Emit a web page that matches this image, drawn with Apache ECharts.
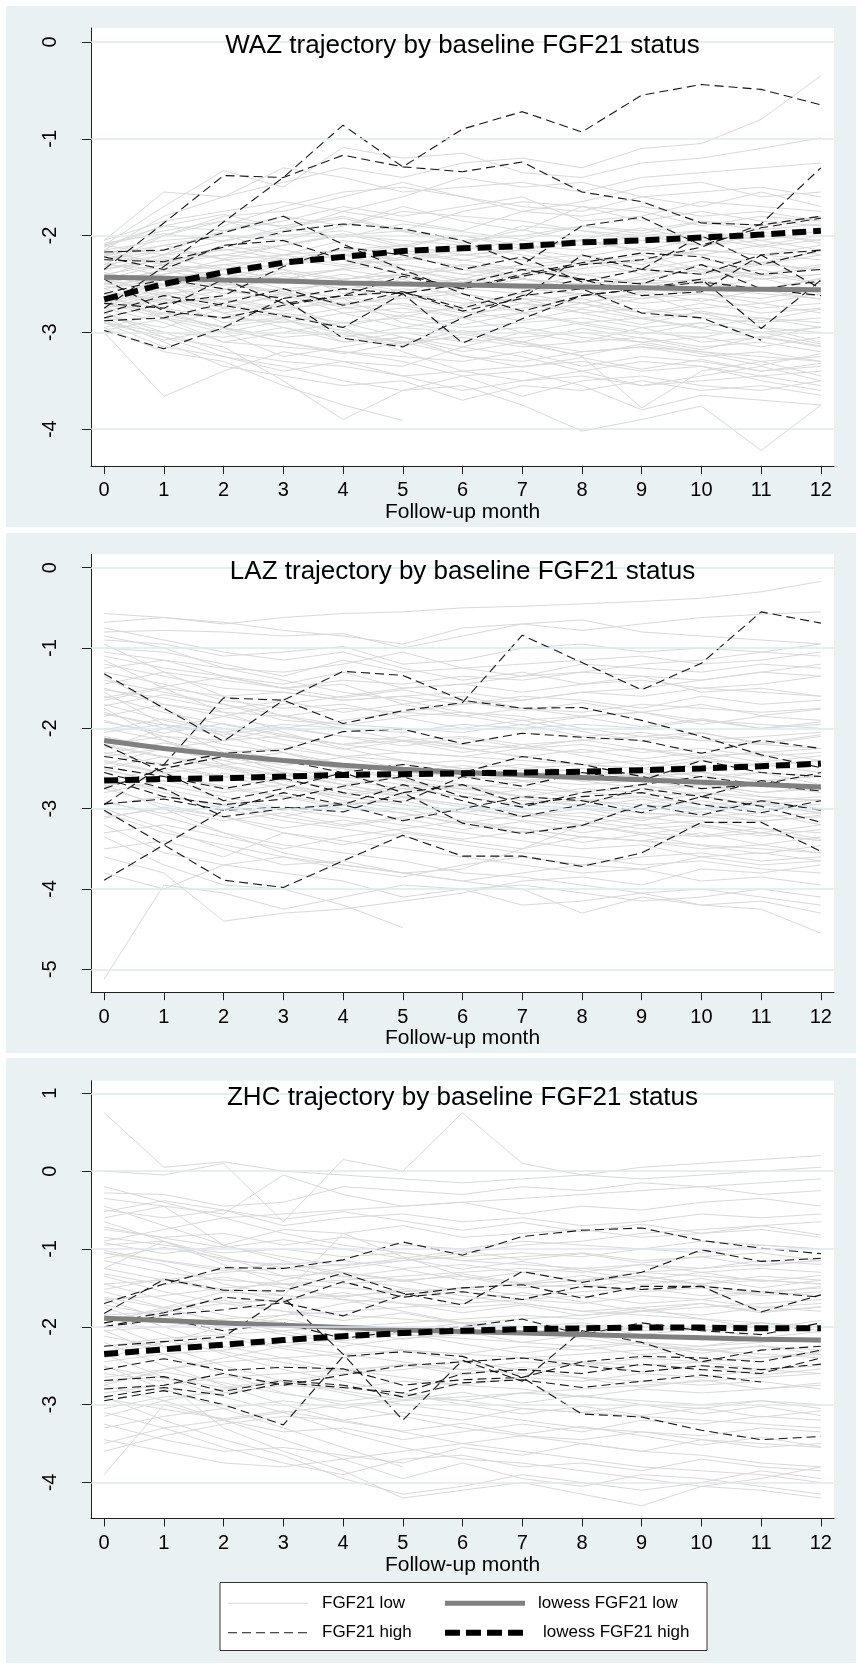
<!DOCTYPE html>
<html>
<head>
<meta charset="utf-8">
<script src="https://cdn.jsdelivr.net/npm/echarts@6/dist/echarts.min.js"></script>
<style>
html, body { margin: 0; padding: 0; background: #ffffff; }
#chart { width: 860px; height: 1669px; }
</style>
</head>
<body>
<div id="chart"></div>
<script>
// Follow-up months on the x axis
const months = [0, 1, 2, 3, 4, 5, 6, 7, 8, 9, 10, 11, 12];

// Tick labels of each panel's y axis
const wazTicks = [0, -1, -2, -3, -4];
const lazTicks = [0, -1, -2, -3, -4, -5];
const zhcTicks = [1, 0, -1, -2, -3, -4];

// ---------- WAZ ----------
const wazLow = [
  [-2.05,-1.55,-1.60,-1.45,-1.30,-1.40,-1.25,-1.20,-1.30,-1.10,-1.05,-0.80,-0.35],
  [-2.10,-1.70,-1.33,-1.50,-1.09,-1.20,-1.15,-1.35,-1.40,-1.25,-1.20,-1.10,-0.99],
  [-2.15,-1.80,-1.60,-1.30,-1.40,-1.55,-1.50,-1.45,-1.55,-1.40,-1.35,-1.30,-1.25],
  [-2.20,-2.00,-1.80,-1.75,-1.60,-1.45,-1.60,-1.70,-1.75,-1.60,-1.55,-1.50,-1.60],
  [-2.10,-1.90,-1.95,-1.85,-1.70,-1.80,-1.70,-1.60,-1.85,-1.80,-1.65,-1.70,-1.75],
  [-2.25,-2.10,-2.00,-2.05,-1.90,-1.70,-1.85,-1.95,-1.70,-1.75,-1.90,-1.80,-1.85],
  [-2.30,-2.20,-2.15,-2.10,-2.00,-2.05,-2.10,-1.90,-1.95,-2.00,-1.95,-2.05,-1.95],
  [-2.35,-2.25,-2.20,-2.25,-2.15,-2.10,-2.00,-2.10,-2.15,-2.05,-2.10,-2.00,-2.05],
  [-2.40,-2.30,-2.35,-2.20,-2.30,-2.25,-2.20,-2.25,-2.20,-2.30,-2.15,-2.20,-2.25],
  [-2.45,-2.40,-2.30,-2.40,-2.35,-2.45,-2.30,-2.35,-2.40,-2.35,-2.40,-2.30,-2.35],
  [-2.50,-2.55,-2.45,-2.50,-2.40,-2.50,-2.55,-2.45,-2.50,-2.45,-2.50,-2.55,-2.45],
  [-2.55,-2.45,-2.60,-2.55,-2.65,-2.55,-2.60,-2.70,-2.60,-2.65,-2.55,-2.60,-2.65],
  [-2.60,-2.70,-2.65,-2.75,-2.70,-2.80,-2.75,-2.65,-2.70,-2.80,-2.75,-2.70,-2.80],
  [-2.65,-2.75,-2.85,-2.80,-2.90,-2.85,-2.95,-2.90,-2.85,-2.95,-2.90,-3.00,-2.95],
  [-2.70,-2.85,-2.95,-3.05,-3.00,-3.10,-3.05,-3.15,-3.10,-3.05,-3.15,-3.10,-3.20],
  [-2.75,-2.90,-3.10,-3.15,-3.20,-3.25,-3.30,-3.20,-3.35,-3.25,-3.30,-3.40,-3.35],
  [-2.80,-3.00,-3.20,-3.30,-3.35,-3.45,-3.40,-3.50,-3.45,-3.55,-3.50,-3.45,-3.55],
  [-2.85,-3.10,-3.35,-3.45,-3.55,-3.50,-3.70,-3.55,-3.60,-3.50,-3.60,-3.55,-3.65],
  [-3.00,-3.66,-3.40,-3.20,-3.30,-3.35,-3.15,-3.25,-3.40,-3.30,-3.35,-3.45,-3.40],
  [-2.90,-3.05,-3.15,-3.50,-3.90,-3.60,-3.45,-3.40,-3.55,-3.80,-3.65,-3.70,-3.75],
  [-2.95,-3.20,-3.30,-3.55,-3.75,-3.91,null,null,null,null,null,null,null],
  [-2.80,-3.05,-3.25,-3.35,-3.50,-3.60,-3.55,-3.75,-4.02,-3.90,-3.76,-4.22,-3.75],
  [-2.70,-2.80,-2.95,-3.10,-3.20,-3.30,-3.45,-3.66,-3.50,-3.45,-3.55,-3.60,-3.50],
  [-2.60,-2.65,-2.90,-2.85,-3.10,-3.05,-3.20,-3.10,-3.25,-3.78,-3.40,-3.30,-3.45],
  [-2.50,-2.45,-2.55,-2.70,-2.65,-2.90,-3.00,-2.95,-3.05,-3.10,-3.20,-3.25,-3.30],
  [-2.40,-2.50,-2.75,-2.60,-2.80,-2.75,-2.85,-3.00,-2.90,-3.00,-3.05,-2.95,-3.10],
  [-2.30,-2.35,-2.40,-2.55,-2.50,-2.60,-2.70,-2.65,-2.80,-2.75,-2.85,-2.90,-2.85],
  [-2.20,-2.10,-2.25,-2.35,-2.45,-2.40,-2.50,-2.55,-2.60,-2.70,-2.65,-2.75,-2.70],
  [-2.15,-2.05,-2.00,-2.15,-2.25,-2.30,-2.40,-2.45,-2.50,-2.55,-2.60,-2.65,-2.55],
  [-2.10,-1.95,-1.85,-2.00,-1.95,-2.10,-2.20,-2.15,-2.30,-2.20,-2.35,-2.40,-2.30],
  [-2.25,-2.15,-1.95,-1.80,-1.90,-1.75,-1.80,-1.85,-1.95,-2.05,-1.95,-2.10,-2.00],
  [-2.35,-2.20,-2.05,-1.95,-1.75,-1.85,-1.95,-1.75,-1.80,-1.70,-1.80,-1.75,-1.85],
  [-2.45,-2.30,-2.20,-2.10,-2.00,-1.95,-2.05,-2.00,-1.90,-1.95,-1.85,-1.90,-1.80],
  [-2.55,-2.40,-2.25,-2.20,-2.15,-2.25,-2.15,-2.05,-2.10,-2.00,-2.10,-2.05,-2.15],
  [-2.65,-2.50,-2.40,-2.45,-2.35,-2.30,-2.40,-2.30,-2.25,-2.35,-2.25,-2.30,-2.20],
  [-2.75,-2.60,-2.55,-2.45,-2.55,-2.50,-2.45,-2.55,-2.40,-2.50,-2.45,-2.40,-2.50],
  [-2.85,-2.70,-2.65,-2.60,-2.70,-2.65,-2.60,-2.70,-2.75,-2.65,-2.60,-2.70,-2.60],
  [-2.95,-2.80,-2.85,-2.90,-2.80,-2.95,-2.85,-2.80,-2.90,-2.85,-2.95,-2.85,-2.90],
  [-2.90,-3.00,-3.05,-2.95,-3.10,-3.00,-3.10,-3.05,-3.00,-3.10,-3.05,-3.15,-3.05],
  [-2.55,-2.75,-3.00,-3.25,-3.15,-3.05,-3.25,-3.30,-3.20,-3.15,-3.25,-3.20,-3.30],
  [-2.45,-2.60,-2.80,-2.70,-2.95,-3.20,-3.40,-3.35,-3.30,-3.40,-3.35,-3.50,-3.60],
  [-2.35,-2.25,-2.50,-2.35,-2.60,-2.45,-2.65,-2.80,-2.70,-2.60,-2.80,-2.85,-2.95],
  [-2.20,-2.30,-2.10,-2.20,-2.05,-2.15,-2.25,-2.35,-2.25,-2.40,-2.30,-2.45,-2.40],
  [-2.10,-2.20,-1.90,-1.70,-1.55,-1.50,-1.60,-1.75,-1.65,-1.50,-1.45,-1.60,-1.55],
  [-2.05,-1.85,-1.75,-1.65,-1.75,-1.60,-1.40,-1.50,-1.45,-1.60,-1.70,-1.55,-1.70],
  [-2.30,-2.00,-1.85,-1.90,-1.80,-1.95,-1.75,-1.65,-1.70,-1.85,-1.75,-1.85,-1.90],
  [-2.50,-2.35,-2.30,-2.25,-2.20,-2.10,-2.20,-2.15,-2.05,-2.15,-2.20,-2.10,-2.20],
  [-2.70,-2.55,-2.50,-2.60,-2.45,-2.40,-2.35,-2.45,-2.55,-2.45,-2.35,-2.45,-2.40],
  [-2.85,-2.95,-2.75,-2.85,-2.75,-2.70,-2.80,-2.75,-2.65,-2.80,-2.70,-2.80,-2.75],
  [-2.60,-2.85,-3.10,-3.00,-2.90,-3.05,-3.15,-3.00,-3.10,-2.95,-3.10,-3.05,-3.15],
  [-2.40,-2.55,-2.35,-2.45,-2.55,-2.65,-2.55,-2.60,-2.70,-2.85,-2.80,-2.95,-3.00],
  [-2.15,-2.30,-2.45,-2.30,-2.20,-2.35,-2.45,-2.30,-2.40,-2.50,-2.45,-2.35,-2.50],
  [-2.65,-2.45,-2.35,-2.30,-2.20,-2.25,-2.10,-2.20,-2.30,-2.25,-2.15,-2.20,-2.10],
  [-2.90,-3.15,-3.25,-3.40,-3.30,-3.45,-3.60,-3.50,-3.40,-3.55,-3.45,-3.35,-3.50],
  [-2.75,-2.65,-2.80,-2.95,-3.05,-2.95,-3.00,-3.10,-3.20,-3.15,-3.20,-3.30,-3.25],
  [-2.08,-1.98,-2.06,-1.92,-2.02,-1.88,-1.96,-2.04,-1.90,-1.98,-1.86,-1.94,-1.88],
  [-2.18,-2.28,-2.14,-2.24,-2.32,-2.18,-2.26,-2.14,-2.22,-2.12,-2.20,-2.28,-2.16],
  [-2.28,-2.42,-2.52,-2.38,-2.46,-2.58,-2.44,-2.52,-2.62,-2.48,-2.56,-2.44,-2.58],
  [-2.38,-2.52,-2.66,-2.78,-2.64,-2.72,-2.84,-2.70,-2.80,-2.92,-2.78,-2.88,-2.76],
  [-2.48,-2.36,-2.48,-2.58,-2.72,-2.62,-2.78,-2.88,-2.76,-2.86,-2.96,-3.06,-2.94],
  [-2.58,-2.68,-2.56,-2.42,-2.52,-2.40,-2.30,-2.42,-2.34,-2.26,-2.38,-2.28,-2.36],
  [-2.68,-2.82,-2.94,-2.86,-3.02,-3.14,-3.02,-3.12,-3.24,-3.12,-3.22,-3.34,-3.22],
  [-2.78,-2.66,-2.74,-2.62,-2.74,-2.84,-2.72,-2.60,-2.70,-2.58,-2.68,-2.56,-2.66],
  [-2.88,-3.08,-2.96,-3.10,-3.22,-3.10,-3.24,-3.36,-3.26,-3.38,-3.28,-3.40,-3.32],
  [-2.98,-2.86,-3.00,-2.88,-2.98,-3.12,-2.98,-3.10,-2.96,-3.06,-3.18,-3.04,-3.14],
  [-2.12,-1.90,-1.78,-1.92,-1.82,-1.96,-2.08,-1.94,-2.06,-2.16,-2.02,-2.12,-2.04],
  [-2.32,-2.14,-2.24,-2.10,-1.98,-2.12,-2.00,-2.14,-2.04,-1.92,-2.06,-1.96,-2.08],
  [-2.52,-2.62,-2.48,-2.60,-2.46,-2.34,-2.48,-2.36,-2.46,-2.58,-2.46,-2.56,-2.44],
  [-2.72,-2.58,-2.70,-2.82,-2.94,-2.82,-2.92,-2.80,-2.92,-3.02,-2.90,-3.00,-3.12],
  [-2.42,-2.22,-2.34,-2.46,-2.34,-2.22,-2.32,-2.44,-2.56,-2.42,-2.30,-2.42,-2.32]
];
const wazHigh = [
  [-2.75,-2.32,-1.86,-1.40,-0.86,-1.29,-0.90,-0.72,-0.93,-0.55,-0.44,-0.49,-0.65],
  [-2.35,-1.87,-1.38,-1.40,-1.17,-1.29,-1.34,-1.24,-1.55,-1.65,-1.87,-1.89,-1.80],
  [-2.17,-2.15,-1.97,-1.80,-2.09,-2.35,-2.60,-2.78,-2.62,-2.55,-2.48,-2.55,-2.47],
  [-2.25,-2.27,-2.12,-1.96,-1.88,-1.93,-2.05,-2.30,-1.90,-1.81,-2.10,-1.92,-1.82],
  [-2.85,-2.70,-2.62,-2.32,-2.12,-2.20,-2.35,-2.22,-2.48,-2.35,-2.00,-2.30,-2.15],
  [-2.98,-3.17,-2.95,-2.65,-3.06,-3.15,-2.85,-2.62,-2.55,-2.80,-2.85,-3.08,null],
  [-2.80,-2.62,-2.72,-2.83,-2.95,-2.60,-3.11,-2.86,-2.62,-2.55,-2.45,-2.96,-2.46],
  [-2.88,-2.85,-2.70,-2.55,-2.72,-2.58,-2.78,-2.65,-2.20,-2.35,-2.40,-2.20,-2.55],
  [-2.22,-2.35,-2.10,-2.05,-2.25,-2.40,-2.55,-2.42,-2.30,-2.25,-2.12,-1.88,-1.30],
  [-2.60,-2.45,-2.55,-2.65,-2.55,-2.60,-2.50,-2.35,-2.45,-2.62,-2.58,-2.20,-2.15],
  [-2.45,-2.78,-2.85,-2.72,-2.62,-2.42,-2.55,-2.40,-2.28,-2.18,-2.22,-2.40,-2.35],
  [-2.70,-2.75,-2.45,-2.70,-2.62,-2.58,-2.75,-2.58,-2.45,-2.50,-2.30,-2.55,-2.62]
];
const wazLowessLow  = [-2.43,-2.44,-2.46,-2.47,-2.49,-2.50,-2.51,-2.52,-2.53,-2.54,-2.55,-2.555,-2.56];
const wazLowessHigh = [-2.66,-2.50,-2.38,-2.28,-2.22,-2.16,-2.13,-2.11,-2.07,-2.05,-2.02,-1.99,-1.95];

// ---------- LAZ ----------
const lazLow = [
  [-0.57,-0.62,-0.70,-0.62,-0.57,-0.55,-0.50,-0.48,-0.45,-0.42,-0.38,-0.30,-0.17],
  [-0.68,-0.62,-0.68,-0.78,-0.85,-0.95,-0.75,-0.70,-0.78,-0.70,-0.62,-0.58,-0.55],
  [-0.80,-0.78,-0.80,-0.85,-0.82,-1.00,-0.85,-0.70,-0.65,-0.80,-0.85,-0.90,-0.95],
  [-0.90,-0.95,-1.10,-1.05,-0.98,-1.20,-1.15,-1.00,-0.95,-1.05,-1.00,-1.05,-1.10],
  [-1.00,-1.05,-1.20,-1.35,-1.15,-1.30,-1.25,-1.35,-1.20,-1.25,-1.30,-1.20,-1.25],
  [-1.10,-1.25,-1.35,-1.45,-1.30,-1.50,-1.45,-1.55,-1.45,-1.40,-1.50,-1.45,-1.35],
  [-1.20,-1.35,-1.50,-1.55,-1.65,-1.60,-1.70,-1.60,-1.65,-1.75,-1.60,-1.70,-1.65],
  [-1.30,-1.45,-1.65,-1.75,-1.70,-1.85,-1.80,-1.90,-1.85,-1.80,-1.95,-1.85,-1.90],
  [-1.40,-1.55,-1.70,-1.90,-1.95,-2.00,-2.05,-1.95,-2.10,-2.05,-2.15,-2.10,-2.05],
  [-1.50,-1.70,-1.85,-2.00,-2.10,-2.15,-2.20,-2.25,-2.20,-2.30,-2.25,-2.35,-2.30],
  [-1.60,-1.80,-1.95,-2.10,-2.20,-2.30,-2.35,-2.40,-2.45,-2.40,-2.50,-2.45,-2.55],
  [-1.70,-1.90,-2.05,-2.20,-2.35,-2.40,-2.50,-2.45,-2.55,-2.60,-2.55,-2.65,-2.60],
  [-1.80,-2.00,-2.20,-2.30,-2.45,-2.55,-2.60,-2.65,-2.70,-2.65,-2.75,-2.70,-2.80],
  [-1.90,-2.10,-2.25,-2.40,-2.50,-2.60,-2.70,-2.75,-2.80,-2.85,-2.80,-2.90,-2.85],
  [-2.00,-2.15,-2.35,-2.50,-2.60,-2.70,-2.75,-2.85,-2.90,-2.95,-3.00,-2.95,-3.05],
  [-2.10,-2.25,-2.40,-2.55,-2.65,-2.75,-2.85,-2.95,-3.00,-3.05,-3.10,-3.15,-3.10],
  [-2.20,-2.35,-2.50,-2.65,-2.75,-2.85,-2.95,-3.05,-3.10,-3.20,-3.15,-3.25,-3.30],
  [-2.30,-2.45,-2.60,-2.75,-2.85,-2.95,-3.05,-3.15,-3.20,-3.30,-3.35,-3.30,-3.40],
  [-2.40,-2.55,-2.75,-2.85,-3.00,-3.05,-3.20,-3.25,-3.35,-3.40,-3.45,-3.50,-3.55],
  [-2.50,-2.70,-2.85,-3.00,-3.10,-3.20,-3.30,-3.40,-3.50,-3.45,-3.60,-3.55,-3.65],
  [-2.60,-2.80,-3.00,-3.15,-3.25,-3.35,-3.45,-3.55,-3.60,-3.70,-3.65,-3.75,-3.80],
  [-2.75,-2.95,-3.10,-3.30,-3.40,-3.50,-3.60,-3.70,-3.80,-3.75,-3.90,-3.85,-3.95],
  [-2.90,-3.10,-3.30,-3.45,-3.55,-3.65,-3.80,-3.85,-3.95,-4.05,-4.00,-4.10,-4.20],
  [-3.05,-3.30,-3.45,-3.60,-3.70,-3.80,-3.90,-4.00,-4.30,-4.10,-4.20,-4.25,-4.55],
  [-3.20,-3.55,-3.70,-3.80,-3.90,-4.10,-4.00,-3.95,-4.05,-4.15,-4.10,-4.00,-4.10],
  [-3.35,-3.70,-3.95,-4.00,-4.20,-4.48,null,null,null,null,null,null,null],
  [-5.12,-3.95,-4.05,-4.25,-4.10,-3.95,-4.00,-4.20,-4.15,-4.05,-4.20,-4.15,-4.30],
  [-3.60,-3.80,-4.40,-4.30,-4.25,-4.15,-4.05,-3.90,-3.85,-3.95,-3.75,-3.80,-3.70],
  [-3.80,-4.00,-3.70,-3.60,-3.75,-3.85,-3.70,-3.60,-3.70,-3.60,-3.55,-3.65,-3.60],
  [-3.50,-3.40,-3.60,-3.30,-3.45,-3.30,-3.40,-3.50,-3.35,-3.40,-3.30,-3.45,-3.35],
  [-3.30,-3.20,-3.35,-3.50,-3.35,-3.25,-3.15,-3.30,-3.20,-3.10,-3.20,-3.30,-3.20],
  [-3.10,-3.00,-3.15,-3.05,-3.20,-3.10,-3.00,-3.10,-3.05,-3.15,-3.00,-3.10,-3.05],
  [-2.95,-2.85,-2.95,-3.10,-2.95,-2.90,-3.05,-2.95,-2.90,-2.85,-2.95,-2.90,-3.00],
  [-2.80,-2.65,-2.80,-2.70,-2.85,-2.75,-2.70,-2.85,-2.75,-2.80,-2.70,-2.80,-2.75],
  [-2.65,-2.50,-2.60,-2.55,-2.70,-2.60,-2.55,-2.65,-2.60,-2.55,-2.65,-2.55,-2.60],
  [-2.50,-2.35,-2.45,-2.40,-2.50,-2.45,-2.40,-2.50,-2.45,-2.50,-2.40,-2.45,-2.40],
  [-2.35,-2.25,-2.30,-2.25,-2.35,-2.30,-2.35,-2.25,-2.30,-2.25,-2.35,-2.30,-2.25],
  [-2.20,-2.10,-2.15,-2.10,-2.20,-2.15,-2.10,-2.20,-2.15,-2.10,-2.15,-2.20,-2.10],
  [-2.05,-1.95,-2.05,-1.95,-2.00,-2.05,-1.95,-2.00,-1.95,-2.00,-1.90,-1.95,-2.00],
  [-1.85,-1.70,-1.80,-1.85,-1.75,-1.80,-1.85,-1.75,-1.80,-1.70,-1.75,-1.80,-1.75],
  [-1.65,-1.50,-1.60,-1.55,-1.65,-1.60,-1.55,-1.65,-1.55,-1.60,-1.50,-1.55,-1.60],
  [-1.45,-1.30,-1.40,-1.50,-1.40,-1.45,-1.35,-1.40,-1.30,-1.35,-1.40,-1.30,-1.35],
  [-1.25,-1.15,-1.25,-1.30,-1.20,-1.05,-1.25,-1.20,-1.15,-1.10,-1.20,-1.15,-1.05],
  [-1.05,-1.15,-1.35,-1.50,-1.45,-1.70,-1.60,-1.75,-1.85,-1.80,-1.90,-2.00,-1.95],
  [-0.85,-1.00,-1.25,-1.40,-1.55,-1.65,-1.80,-1.85,-2.00,-2.10,-2.05,-2.20,-2.25],
  [-0.95,-1.30,-1.60,-1.85,-2.00,-2.15,-2.25,-2.35,-2.45,-2.50,-2.60,-2.55,-2.70],
  [-1.15,-1.50,-1.80,-2.05,-2.25,-2.40,-2.50,-2.60,-2.65,-2.75,-2.70,-2.85,-2.90],
  [-1.35,-1.75,-2.10,-2.30,-2.50,-2.65,-2.80,-2.90,-2.95,-3.05,-3.10,-3.05,-3.20],
  [-1.55,-1.95,-2.30,-2.55,-2.70,-2.85,-2.95,-3.05,-3.15,-3.25,-3.20,-3.30,-3.40],
  [-1.75,-2.15,-2.45,-2.70,-2.90,-3.00,-3.15,-3.25,-3.35,-3.40,-3.50,-3.45,-3.55],
  [-2.25,-2.00,-1.85,-1.70,-1.60,-1.50,-1.45,-1.35,-1.30,-1.20,-1.15,-1.05,-0.95],
  [-2.45,-2.25,-2.15,-2.00,-1.90,-1.80,-1.70,-1.65,-1.55,-1.50,-1.40,-1.30,-1.20],
  [-2.70,-3.00,-3.30,-3.55,-3.70,-3.80,-3.75,-3.50,-3.20,-2.95,-2.80,-2.85,-2.90],
  [-3.00,-3.25,-3.50,-3.70,-3.65,-3.80,-3.90,-3.80,-3.70,-3.75,-3.60,-3.70,-3.65],
  [-0.75,-0.90,-1.05,-1.15,-1.05,-1.25,-1.40,-1.30,-1.45,-1.35,-1.55,-1.50,-1.60],
  [-1.52,-1.62,-1.76,-1.66,-1.80,-1.70,-1.84,-1.96,-1.86,-1.98,-1.88,-2.00,-1.92],
  [-1.72,-1.58,-1.70,-1.84,-1.96,-1.86,-2.00,-1.90,-2.04,-2.16,-2.06,-2.18,-2.08],
  [-1.92,-2.06,-1.94,-2.08,-2.20,-2.10,-2.24,-2.36,-2.26,-2.38,-2.30,-2.42,-2.34],
  [-2.12,-2.26,-2.40,-2.30,-2.44,-2.56,-2.46,-2.58,-2.50,-2.62,-2.54,-2.66,-2.58],
  [-2.32,-2.18,-2.32,-2.46,-2.36,-2.50,-2.62,-2.52,-2.66,-2.56,-2.70,-2.80,-2.72],
  [-2.52,-2.66,-2.56,-2.70,-2.82,-2.72,-2.86,-2.76,-2.88,-3.00,-2.90,-3.02,-2.94],
  [-2.72,-2.58,-2.72,-2.84,-2.96,-2.86,-2.98,-3.10,-3.00,-3.12,-3.04,-3.16,-3.08],
  [-2.92,-3.06,-2.96,-3.10,-3.22,-3.12,-3.26,-3.16,-3.30,-3.20,-3.34,-3.24,-3.38],
  [-3.12,-2.98,-3.10,-3.24,-3.14,-3.28,-3.38,-3.28,-3.42,-3.32,-3.46,-3.56,-3.46],
  [-1.62,-1.48,-1.36,-1.50,-1.62,-1.52,-1.66,-1.78,-1.68,-1.80,-1.70,-1.84,-1.76],
  [-1.82,-1.96,-2.08,-1.98,-2.10,-2.22,-2.12,-2.24,-2.14,-2.26,-2.38,-2.28,-2.40],
  [-2.02,-1.88,-2.00,-2.14,-2.26,-2.16,-2.30,-2.20,-2.34,-2.46,-2.36,-2.48,-2.40],
  [-2.22,-2.36,-2.48,-2.60,-2.50,-2.64,-2.76,-2.66,-2.80,-2.70,-2.84,-2.96,-2.88],
  [-2.42,-2.56,-2.46,-2.58,-2.70,-2.82,-2.72,-2.86,-2.98,-2.88,-3.00,-2.92,-3.06],
  [-2.62,-2.76,-2.90,-3.02,-2.92,-3.06,-3.18,-3.08,-3.20,-3.32,-3.22,-3.34,-3.26]
];
const lazHigh = [
  [-1.32,-1.75,-2.16,-1.65,-1.29,-1.34,-1.65,-1.75,-1.74,-1.90,-2.10,-2.33,-2.49],
  [-2.95,-2.45,-1.62,-1.65,-1.94,-1.78,-1.68,-0.84,-1.18,-1.52,-1.19,-0.55,-0.69],
  [-2.35,-2.46,-2.31,-2.27,-2.04,-2.01,-2.19,-2.06,-2.11,-2.15,-2.31,-2.15,-2.25],
  [-3.89,-3.45,-3.02,-2.80,-2.95,-2.70,-2.90,-3.10,-2.95,-2.75,-2.85,-2.97,-3.17],
  [-3.02,-3.45,-3.89,-3.98,-3.65,-3.33,-3.59,-3.59,-3.72,-3.55,-3.17,-3.17,-3.53],
  [-2.94,-2.88,-3.02,-2.98,-3.04,-2.80,-3.18,-3.31,-3.21,-2.95,-3.08,-2.90,-3.02],
  [-2.48,-2.60,-2.75,-2.62,-2.80,-2.92,-2.60,-2.72,-2.55,-2.65,-2.40,-2.55,-2.60],
  [-2.62,-2.85,-2.95,-2.88,-2.72,-2.60,-2.85,-2.98,-2.80,-2.70,-2.60,-2.70,-2.55],
  [-2.20,-2.55,-2.90,-2.75,-2.55,-2.45,-2.55,-2.35,-2.45,-2.60,-2.75,-2.70,-2.78],
  [-2.75,-2.50,-2.35,-2.40,-2.55,-2.80,-2.70,-2.95,-2.85,-2.80,-2.95,-3.05,-2.90],
  [-2.55,-2.75,-3.10,-3.00,-2.95,-3.15,-3.00,-2.85,-2.90,-3.05,-2.85,-2.65,-2.75]
];
const lazLowessLow  = [-2.15,-2.25,-2.33,-2.40,-2.46,-2.51,-2.55,-2.58,-2.61,-2.64,-2.67,-2.70,-2.73];
const lazLowessHigh = [-2.65,-2.63,-2.62,-2.60,-2.58,-2.57,-2.56,-2.55,-2.54,-2.52,-2.50,-2.47,-2.44];

// ---------- ZHC ----------
const zhcLow = [
  [0.75,0.05,0.12,0.00,-0.05,-0.10,-0.15,-0.10,-0.05,-0.10,-0.05,0.00,0.05],
  [0.00,-0.05,0.10,-0.65,0.15,0.00,0.75,0.10,-0.05,0.05,0.10,0.15,0.20],
  [-0.28,-0.30,-0.45,-0.40,-0.20,-0.25,-0.30,-0.20,-0.25,-0.15,-0.20,-0.30,-0.25],
  [-0.35,-0.45,-0.55,-0.05,-0.30,-0.45,-0.40,-0.55,-0.45,-0.50,-0.40,-0.35,-0.45],
  [-0.50,-0.60,-0.50,-0.70,-0.60,-0.55,-0.65,-0.60,-0.70,-0.65,-0.55,-0.60,-0.55],
  [-0.60,-0.45,-0.95,-0.75,-0.80,-0.70,-0.85,-0.80,-0.75,-0.85,-0.80,-0.75,-0.85],
  [-0.75,-0.85,-0.80,-0.95,-0.85,-0.95,-1.00,-0.90,-0.95,-1.00,-0.90,-0.95,-1.00],
  [-0.85,-0.95,-1.05,-1.00,-1.10,-1.05,-1.15,-1.10,-1.05,-1.15,-1.10,-1.05,-1.15],
  [-0.95,-0.90,-1.15,-1.20,-1.15,-1.25,-1.20,-1.30,-1.25,-1.20,-1.30,-1.25,-1.30],
  [-1.05,-1.15,-1.25,-1.35,-1.30,-1.40,-1.35,-1.45,-1.40,-1.35,-1.45,-1.40,-1.45],
  [-1.15,-1.30,-1.40,-1.45,-1.50,-1.55,-1.50,-1.60,-1.55,-1.50,-1.60,-1.55,-1.50],
  [-1.25,-1.40,-1.55,-1.60,-1.65,-1.70,-1.75,-1.70,-1.80,-1.75,-1.70,-1.80,-1.75],
  [-1.35,-1.55,-1.70,-1.80,-1.85,-1.90,-1.95,-2.00,-1.95,-2.05,-2.00,-1.95,-2.05],
  [-1.45,-1.65,-1.85,-1.95,-2.05,-2.10,-2.15,-2.20,-2.25,-2.20,-2.30,-2.25,-2.30],
  [-1.55,-1.75,-1.95,-2.10,-2.20,-2.30,-2.35,-2.40,-2.45,-2.50,-2.45,-2.55,-2.50],
  [-1.65,-1.90,-2.10,-2.25,-2.35,-2.45,-2.55,-2.60,-2.65,-2.70,-2.75,-2.70,-2.80],
  [-1.75,-2.00,-2.25,-2.40,-2.55,-2.65,-2.75,-2.80,-2.90,-2.95,-3.00,-2.95,-3.05],
  [-1.85,-2.10,-2.35,-2.55,-2.70,-2.85,-2.95,-3.05,-3.10,-3.15,-3.20,-3.25,-3.30],
  [-1.95,-2.25,-2.50,-2.70,-2.85,-3.00,-3.10,-3.20,-3.30,-3.35,-3.45,-3.50,-3.55],
  [-2.05,-2.35,-2.60,-2.85,-3.00,-3.15,-3.30,-3.40,-3.50,-3.60,-3.65,-3.75,-3.80],
  [-2.20,-2.50,-2.75,-3.00,-3.20,-3.35,-3.50,-3.60,-3.70,-3.80,-3.85,-3.90,-4.00],
  [-2.35,-2.65,-2.90,-3.10,-3.35,-3.55,-3.70,-3.75,-3.85,-3.95,-4.05,-4.10,-4.20],
  [-2.50,-2.80,-3.05,-3.30,-3.55,-3.80,null,null,null,null,null,null,null],
  [-2.60,-2.70,-3.30,-3.60,-3.85,-4.20,-4.10,-4.00,-4.15,-4.30,-4.05,-3.95,-3.80],
  [-2.75,-2.95,-3.20,-3.45,-3.70,-3.95,-3.75,-3.95,-4.05,-3.90,-3.95,-4.05,-4.15],
  [-2.90,-3.20,-3.45,-3.65,-3.95,-4.15,-4.05,-3.90,-4.00,-4.10,-4.00,-3.85,-3.95],
  [-3.10,-3.30,-3.55,-3.75,-3.90,-3.70,-3.65,-3.80,-3.75,-3.85,-3.70,-3.80,-3.85],
  [-3.25,-3.45,-3.60,-3.55,-3.65,-3.75,-3.55,-3.65,-3.50,-3.60,-3.45,-3.55,-3.50],
  [-3.45,-3.60,-3.75,-3.80,-3.70,-3.60,-3.50,-3.40,-3.45,-3.35,-3.40,-3.30,-3.35],
  [-3.90,-3.00,-3.20,-3.35,-3.30,-3.45,-3.35,-3.25,-3.35,-3.20,-3.25,-3.15,-3.20],
  [-3.60,-3.40,-3.25,-3.15,-3.20,-3.10,-3.20,-3.05,-3.10,-3.00,-3.05,-2.95,-3.00],
  [-3.30,-3.15,-3.05,-2.95,-3.05,-2.90,-2.95,-2.85,-2.90,-2.80,-2.85,-2.80,-2.75],
  [-3.05,-2.90,-2.85,-2.75,-2.80,-2.70,-2.75,-2.65,-2.70,-2.60,-2.65,-2.55,-2.60],
  [-2.85,-2.75,-2.65,-2.60,-2.55,-2.50,-2.55,-2.45,-2.50,-2.40,-2.45,-2.40,-2.35],
  [-2.65,-2.55,-2.45,-2.40,-2.35,-2.30,-2.35,-2.25,-2.30,-2.20,-2.25,-2.15,-2.20],
  [-2.45,-2.35,-2.30,-2.20,-2.25,-2.15,-2.10,-2.05,-2.10,-2.00,-2.05,-1.95,-2.00],
  [-2.25,-2.15,-2.10,-2.05,-2.00,-1.95,-1.90,-1.85,-1.90,-1.80,-1.85,-1.75,-1.80],
  [-2.05,-2.00,-1.90,-1.85,-1.80,-1.75,-1.70,-1.65,-1.70,-1.60,-1.65,-1.55,-1.60],
  [-1.85,-1.80,-1.70,-1.65,-1.60,-1.55,-1.50,-1.45,-1.50,-1.40,-1.45,-1.35,-1.40],
  [-1.65,-1.60,-1.50,-1.45,-1.40,-1.35,-1.30,-1.25,-1.30,-1.20,-1.25,-1.15,-1.20],
  [-1.45,-1.40,-1.30,-1.25,-1.20,-1.15,-1.10,-1.05,-1.10,-1.00,-1.05,-0.95,-1.00],
  [-1.25,-0.90,-1.10,-1.35,-1.45,-1.40,-1.55,-1.65,-1.60,-1.70,-1.65,-1.75,-1.70],
  [-1.05,-1.20,-1.45,-1.60,-0.80,-1.10,-1.35,-1.50,-1.45,-1.55,-1.50,-1.60,-1.55],
  [-0.65,-0.90,-1.20,-1.45,-1.65,-1.80,-1.95,-2.05,-2.15,-2.25,-2.30,-2.35,-2.40],
  [-0.45,-0.70,-0.95,-1.15,-1.35,-1.50,-1.60,-1.70,-1.80,-1.85,-1.90,-1.95,-2.00],
  [-1.95,-1.75,-1.55,-1.40,-1.25,-1.15,-1.05,-0.95,-0.90,-0.80,-0.75,-0.70,-0.65],
  [-2.40,-2.20,-2.00,-1.85,-1.70,-1.60,-1.50,-1.45,-1.40,-1.30,-1.25,-1.20,-1.15],
  [-2.75,-2.55,-2.40,-2.25,-2.15,-2.05,-1.95,-1.90,-1.85,-1.80,-1.75,-1.70,-1.65],
  [-3.15,-2.95,-2.80,-2.70,-2.60,-2.55,-2.45,-2.40,-2.35,-2.30,-2.25,-2.20,-2.15],
  [-3.50,-3.30,-3.20,-3.10,-3.00,-2.95,-2.90,-2.85,-2.80,-2.75,-2.70,-2.65,-2.60],
  [-0.20,-0.40,-0.60,-0.80,-0.95,-1.05,-1.15,-1.20,-1.25,-1.30,-1.35,-1.40,-1.45],
  [-0.90,-0.75,-0.60,-0.55,-0.50,-0.45,-0.40,-0.35,-0.30,-0.25,-0.20,-0.15,-0.10],
  [-0.72,-0.86,-0.98,-0.88,-1.00,-1.12,-1.02,-1.14,-1.06,-1.18,-1.10,-1.22,-1.14],
  [-0.92,-1.06,-0.96,-1.10,-1.22,-1.12,-1.26,-1.16,-1.28,-1.40,-1.30,-1.42,-1.34],
  [-1.12,-0.98,-1.12,-1.24,-1.36,-1.26,-1.40,-1.30,-1.42,-1.34,-1.46,-1.58,-1.48],
  [-1.32,-1.46,-1.36,-1.50,-1.62,-1.52,-1.66,-1.56,-1.68,-1.80,-1.70,-1.82,-1.74],
  [-1.52,-1.38,-1.52,-1.66,-1.56,-1.70,-1.82,-1.72,-1.86,-1.76,-1.90,-2.02,-1.92],
  [-1.72,-1.86,-2.00,-1.90,-2.04,-2.16,-2.06,-2.20,-2.10,-2.22,-2.34,-2.24,-2.36],
  [-1.92,-1.78,-1.92,-2.06,-2.18,-2.08,-2.22,-2.34,-2.24,-2.36,-2.28,-2.40,-2.32],
  [-2.12,-2.26,-2.14,-2.28,-2.40,-2.30,-2.44,-2.56,-2.46,-2.58,-2.50,-2.62,-2.54],
  [-2.32,-2.18,-2.32,-2.46,-2.58,-2.48,-2.62,-2.52,-2.66,-2.78,-2.68,-2.80,-2.72],
  [-2.52,-2.66,-2.78,-2.68,-2.82,-2.94,-2.84,-2.98,-2.88,-3.00,-3.12,-3.02,-3.14],
  [-2.72,-2.58,-2.72,-2.86,-2.96,-2.86,-3.00,-3.12,-3.02,-3.14,-3.04,-3.16,-3.08],
  [-2.92,-3.06,-3.18,-3.08,-3.22,-3.34,-3.24,-3.38,-3.28,-3.40,-3.52,-3.42,-3.54],
  [-0.52,-0.38,-0.50,-0.62,-0.52,-0.64,-0.76,-0.66,-0.78,-0.68,-0.80,-0.70,-0.82],
  [-1.02,-1.16,-1.28,-1.18,-1.30,-1.42,-1.32,-1.44,-1.34,-1.46,-1.38,-1.50,-1.40],
  [-1.62,-1.76,-1.66,-1.80,-1.92,-1.82,-1.96,-2.08,-1.98,-2.10,-2.02,-2.14,-2.06]
];
const zhcHigh = [
  [-1.70,-1.45,-1.24,-1.25,-1.14,-0.91,-1.08,-0.84,-0.76,-0.73,-0.89,-0.99,-1.06],
  [-1.83,-1.39,-1.53,-1.54,-1.31,-1.57,-1.72,-1.29,-1.43,-1.30,-1.01,-1.16,-1.12],
  [-1.95,-1.82,-1.62,-1.68,-1.42,-1.62,-1.55,-1.65,-1.48,-1.52,-1.48,-1.55,-1.62],
  [-2.00,-1.85,-1.78,-1.69,-1.86,-1.59,-1.50,-1.46,-1.63,-1.48,-1.48,-1.81,-1.59],
  [-2.25,-2.19,-2.13,-1.62,-2.35,-3.20,-2.43,-2.70,-2.05,-2.20,-2.45,-2.30,-2.25],
  [-2.95,-2.82,-3.00,-3.26,-2.38,-2.32,-2.38,-2.65,-3.12,-3.16,-3.33,-3.45,-3.41],
  [-2.69,-2.64,-2.83,-2.69,-2.75,-2.90,-2.72,-2.68,-2.78,-2.70,-2.62,-2.71,null],
  [-2.55,-2.41,-2.56,-2.52,-2.54,-2.75,-2.68,-2.65,-2.45,-2.38,-2.40,-2.45,-2.30],
  [-2.80,-2.75,-2.60,-2.75,-2.62,-2.50,-2.45,-2.40,-2.50,-2.58,-2.50,-2.55,-2.48],
  [-2.90,-2.78,-2.88,-2.72,-2.78,-2.85,-2.60,-2.55,-2.60,-2.48,-2.55,-2.60,-2.40],
  [-2.00,-1.90,-2.05,-1.95,-2.15,-2.05,-2.00,-1.90,-2.10,-1.95,-2.05,-2.10,-1.95]
];
const zhcLowessLow  = [-1.89,-1.92,-1.95,-1.98,-2.01,-2.04,-2.06,-2.08,-2.10,-2.12,-2.14,-2.16,-2.17];
const zhcLowessHigh = [-2.35,-2.29,-2.23,-2.17,-2.12,-2.08,-2.05,-2.03,-2.02,-2.01,-2.01,-2.02,-2.02];

// Legend entries
const legendLabels = ['FGF21 low', 'lowess FGF21 low', 'FGF21 high', 'lowess FGF21 high'];
const xTitle = 'Follow-up month';

// ---------- layout & styling ----------
const FONT = '"Liberation Sans", Arial, Helvetica, sans-serif';
const PANEL_BG = '#eaf1f3';
const GRID_LINE = '#dfe9ec';
const AXIS_COLOR = '#1f1f1f';
const STYLE = {
  low:      { color: '#d9d9d9', width: 1, type: 'solid' },
  high:     { color: '#141414', width: 1.1, type: [9, 5] },
  lwLow:    { color: '#808080', width: 5, type: 'solid' },
  lwHigh:   { color: '#000000', width: 6, type: [14, 7] }
};

const panels = [
  { title: 'WAZ trajectory by baseline FGF21 status', top: 28, min: -4.378, max: 0.144, ticks: wazTicks,
    low: wazLow, high: wazHigh, lwLow: wazLowessLow, lwHigh: wazLowessHigh, bgTop: 6, bgH: 521 },
  { title: 'LAZ trajectory by baseline FGF21 status', top: 554.3, min: -5.283, max: 0.167, ticks: lazTicks,
    low: lazLow, high: lazHigh, lwLow: lazLowessLow, lwHigh: lazLowessHigh, bgTop: 533, bgH: 520 },
  { title: 'ZHC trajectory by baseline FGF21 status', top: 1080.7, min: -4.463, max: 1.162, ticks: zhcTicks,
    low: zhcLow, high: zhcHigh, lwLow: zhcLowessLow, lwHigh: zhcLowessHigh, bgTop: 1058, bgH: 605 }
];
const GRID_LEFT = 91, GRID_W = 743, GRID_H = 437.8;

function toPairs(vals) {
  const out = [];
  vals.forEach((v, i) => { if (v !== null) out.push([months[i], v]); });
  return out;
}

function lineSeries(idx, vals, style, z) {
  return {
    type: 'line', xAxisIndex: idx, yAxisIndex: idx,
    data: toPairs(vals), symbol: 'none', silent: true, z: z,
    lineStyle: { color: style.color, width: style.width, type: style.type, cap: 'butt' },
    emphasis: { disabled: true }, animation: false
  };
}

const grids = [], xAxes = [], yAxes = [], series = [], graphics = [];

panels.forEach((p, i) => {
  graphics.push({ type: 'rect', z: -10, shape: { x: 6, y: p.bgTop, width: 850, height: p.bgH },
                  style: { fill: PANEL_BG } });
  grids.push({ left: GRID_LEFT, top: p.top, width: GRID_W, height: GRID_H,
               show: true, backgroundColor: '#ffffff', borderWidth: 0 });
  xAxes.push({
    type: 'value', gridIndex: i, min: -0.22, max: 12.22,
    axisLine: { show: true, onZero: false, lineStyle: { color: AXIS_COLOR, width: 1 } },
    axisTick: { show: true, length: 8, customValues: months, lineStyle: { color: AXIS_COLOR } },
    axisLabel: { customValues: months, fontSize: 20, fontFamily: FONT, color: '#000', margin: 15 },
    splitLine: { show: false },
    name: xTitle, nameLocation: 'middle', nameGap: 36,
    nameTextStyle: { fontSize: 21, fontFamily: FONT, color: '#000' }
  });
  yAxes.push({
    type: 'value', gridIndex: i, min: p.min, max: p.max,
    axisLine: { show: true, onZero: false, lineStyle: { color: AXIS_COLOR, width: 1 } },
    axisTick: { show: true, length: 9, customValues: p.ticks, lineStyle: { color: AXIS_COLOR } },
    axisLabel: { customValues: p.ticks, rotate: 90, fontSize: 20, fontFamily: FONT, color: '#000', margin: 31 },
    splitLine: { show: false }
  });
  // horizontal grid lines at the labelled ticks
  series.push({
    type: 'line', xAxisIndex: i, yAxisIndex: i, data: [], silent: true, z: 1, animation: false,
    markLine: {
      silent: true, symbol: ['none', 'none'], label: { show: false }, animation: false,
      emphasis: { disabled: true },
      lineStyle: { color: GRID_LINE, width: 1.5, type: 'solid' },
      data: p.ticks.map(t => ({ yAxis: t }))
    }
  });
  p.low.forEach(v => series.push(lineSeries(i, v, STYLE.low, 2)));
  p.high.forEach(v => series.push(lineSeries(i, v, STYLE.high, 3)));
  series.push(lineSeries(i, p.lwLow, STYLE.lwLow, 4));
  series.push(lineSeries(i, p.lwHigh, STYLE.lwHigh, 5));
  graphics.push({ type: 'text', z: 20, x: GRID_LEFT + GRID_W / 2, y: p.top + 17.5,
    style: { text: p.title, font: '26px ' + FONT, fill: '#000', textAlign: 'center', textVerticalAlign: 'middle' } });
});

// legend box
const LG = { x: 220, y: 1582.5, w: 487, h: 68, row1: 1603.3, row2: 1632.7 };
graphics.push({ type: 'rect', z: 20, shape: { x: LG.x, y: LG.y, width: LG.w, height: LG.h },
                style: { fill: '#ffffff', stroke: '#333333', lineWidth: 1 } });
const legendItems = [
  { style: STYLE.low,    x1: 228, x2: 308, y: LG.row1, tx: 322, label: legendLabels[0] },
  { style: STYLE.lwLow,  x1: 445, x2: 525, y: LG.row1, tx: 538, label: legendLabels[1] },
  { style: STYLE.high,   x1: 228, x2: 308, y: LG.row2, tx: 322, label: legendLabels[2] },
  { style: { color: '#000', width: 6, type: [15, 6] }, x1: 445, x2: 525, y: LG.row2, tx: 543, label: legendLabels[3] }
];
legendItems.forEach(it => {
  graphics.push({ type: 'line', z: 21, shape: { x1: it.x1, y1: it.y, x2: it.x2, y2: it.y },
    style: { stroke: it.style.color, lineWidth: it.style.width,
             lineDash: Array.isArray(it.style.type) ? it.style.type : null } });
  graphics.push({ type: 'text', z: 21, x: it.tx, y: it.y,
    style: { text: it.label, font: '17px ' + FONT, fill: '#000', textAlign: 'left', textVerticalAlign: 'middle' } });
});

const chart = echarts.init(document.getElementById('chart'), null, { renderer: 'canvas' });
chart.setOption({
  animation: false,
  backgroundColor: '#ffffff',
  grid: grids,
  xAxis: xAxes,
  yAxis: yAxes,
  series: series,
  graphic: { elements: graphics }
});
</script>
</body>
</html>
